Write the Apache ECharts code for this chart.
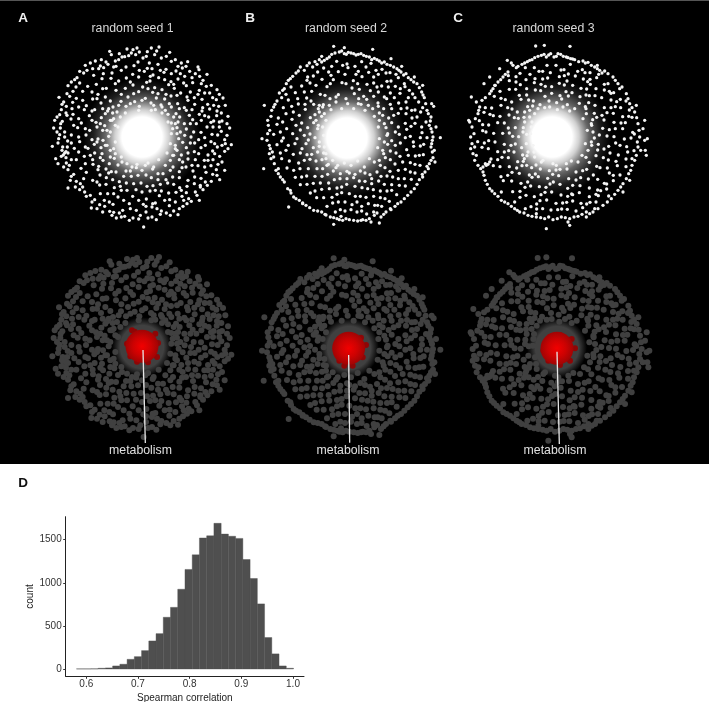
<!DOCTYPE html>
<html><head><meta charset="utf-8">
<style>html,body{margin:0;padding:0;background:#fff}#c{width:709px;height:702px}</style>
<script src="https://cdn.jsdelivr.net/npm/echarts@6/dist/echarts.min.js"></script>
</head><body><div id="c"></div>
<script>
// Embedding points (arbitrary embedding units, y up)
const seed1 = [[-97,257],[-92,247],[-45,264],[-27,262],[-15,267],[-32,252],[-19,247],[13,242],[28,267],[51,270],[83,254],[73,242],[58,237],[88,227],[38,247],[3,237],[-60,240],[-70,232],[-80,228],[-52,241],[-40,244],[-108,225],[-125,213],[-140,228],[-155,222],[-130,205],[-115,208],[-148,205],[-165,200],[-187,197],[-222,154],[-202,172],[-187,162],[-207,137],[-217,122],[-249,119],[-227,92],[-242,82],[-247,67],[-262,50],[-239,47],[-245,27],[-265,27],[-247,7],[-269,-28],[-252,-18],[-232,-48],[-236,-54],[-228,-44],[-259,-65],[-242,-58],[-227,-78],[-222,-98],[-212,-118],[-197,-133],[-222,-153],[-187,-158],[-167,-178],[-142,-188],[-152,-213],[-127,-203],[-97,-223],[-77,-243],[-52,-238],[-27,-243],[18,-243],[5,-270],[43,-248],[73,-228],[108,-233],[123,-208],[148,-193],[183,-158],[208,-133],[233,-128],[223,-98],[233,-58],[248,-43],[268,-23],[248,-8],[263,27],[238,17],[258,62],[238,72],[243,117],[223,112],[203,132],[193,152],[171,202],[173,182],[143,197],[118,222],[121,207],[160,190],[132,212],[183,170],[212,118],[230,92],[240,48],[250,-20],[240,-75],[225,-115],[196,-145],[165,-175],[135,-200],[95,-222],[30,-240],[-10,-246],[-62,-240],[-85,-226],[-112,-208],[-155,-175],[-178,-150],[-205,-112],[-218,-85],[-238,-30],[-250,-5],[-244,40],[-235,105],[-225,130],[-195,178],[-175,192],[-102,218],[-12,225],[22,222],
[-78,212],[-24,214],[16,206],[48,218],[72,203],[-116,190],[-62,200],[-28,188],[7,197],[33,186],[66,194],[102,198],[-93,176],[-47,177],[-10,180],[24,168],[50,178],[87,166],[128,182],[-137,158],[-70,168],[-27,156],[14,164],[38,148],[80,157],[108,174],[152,163],[-163,152],[-107,146],[-50,146],[-10,136],[32,134],[60,142],[97,146],[133,154],[172,140],[-178,137],[-132,128],[-78,140],[-42,120],[10,116],[43,117],[87,123],[116,132],[157,118],[-197,116],[-148,114],[-110,120],[-63,107],[-22,106],[27,102],[68,114],[107,100],[138,110],[180,113],[-208,104],[-167,94],[-123,102],[-87,90],[57,96],[88,90],[127,88],[158,98],[197,98],[-173,82],[-142,82],[-103,78],[102,70],[133,80],[172,68],[203,84],[-207,68],[-158,64],[-122,58],[113,60],[152,52],[188,64],[224,64],[-213,54],[-182,42],[-138,44],[-112,34],[127,40],[163,40],[207,44],[-193,28],[-157,20],[-118,20],[133,24],[177,14],[213,30],[-212,6],[-168,6],[-132,-6],[147,0],[188,-2],[227,6],[-223,-12],[-187,-14],[-143,-22],[-117,-10],[122,-16],[158,-18],[207,-14],[-203,-34],[-162,-34],[-123,-32],[133,-32],[177,-32],[226,-30],[-222,-48],[-173,-58],[-142,-48],[118,-54],[157,-44],[198,-54],[-197,-68],[-148,-68],[-117,-70],[-83,-64],[112,-68],[138,-66],[187,-70],[213,-68],[-183,-94],[-147,-82],[-108,-96],[-72,-84],[93,-90],[132,-90],[168,-86],[207,-86],[-167,-106],[-126,-114],[-92,-104],[-48,-102],[-17,-92],[32,-96],[63,-110],[112,-104],[153,-102],[192,-106],[-148,-130],[-107,-122],[-68,-134],[-32,-118],[12,-114],[48,-128],[92,-120],[138,-130],[177,-124],[-127,-144],[-83,-152],[-47,-138],[-3,-138],[33,-146],[77,-138],[113,-152],[157,-140],[-103,-170],[-62,-160],[-18,-158],[24,-162],[58,-162],[102,-166],[133,-167],[-113,-190],[-72,-180],[-28,-178],[13,-186],[52,-176],[83,-188],[120,-178],[-87,-202],[-38,-200],[4,-202],[40,-198],[82,-206],[-58,-220],[-17,-220],[30,-210],[58,-222],
[-110,70],[-125,40],[-105,20],[-110,-25],[-120,-50],[-95,-60],[-100,85],[-70,95],[-35,100],[0,110],[35,95],[70,80],[95,60],[100,40],[115,15],[110,-5],[100,-35],[95,-55],[70,-85],[35,-90],[0,-100],[-30,-90],[-60,-75],[-90,50],[-85,-35],[-75,75],[60,90],[85,-70],[-95,15],[92,25]];
const seed1More = [[-68,250],[-8,255],[16,256],[44,258],[100,232],[108,212],[137,226],[150,178],[168,210],[195,188],[178,160],[208,155],[225,142],[232,128],[250,95],[225,78],[255,40],[232,30],[255,5],[240,-25],[258,-35],[218,-50],[228,-82],[248,-100],[212,-112],[190,-135],[175,-150],[160,-165],[172,-190],[140,-185],[125,-190],[112,-215],[85,-235],[55,-232],[12,-225],[-5,-235],[-38,-250],[-68,-228],[-90,-235],[-118,-225],[-135,-215],[-150,-195],[-172,-165],[-185,-140],[-200,-150],[-215,-130],[-235,-90],[-252,-80],[-228,-62],[-240,-40],[-224,-30],[-255,15],[-232,15],[-255,60],[-225,65],[-240,98],[-210,85],[-198,150],[-212,165],[-170,215],[-145,185],[-122,232],[-85,210],
[-90,192],[-48,210],[-8,200],[30,205],[55,200],[88,190],[115,190],[-120,175],[-80,160],[-35,165],[2,150],[25,182],[68,172],[95,158],[125,162],[145,135],[-150,135],[-118,145],[-62,128],[-25,130],[18,145],[48,130],[72,128],[105,125],[135,120],[168,128],[188,132],[-178,110],[-135,115],[-95,108],[-48,92],[-8,92],[40,82],[82,100],[112,85],[150,82],[182,88],[215,95],[-190,90],[-150,78],[-118,85],[-88,72],[78,68],[108,45],[142,65],[180,78],[200,60],[-228,72],[-190,55],[-150,50],[-95,50],[-80,35],[88,42],[145,40],[178,50],[215,48],[-205,35],[-170,25],[-135,30],[-100,2],[105,28],[155,15],[195,30],[232,45],[-232,0],[-190,0],[-150,-8],[-105,-25],[105,10],[128,5],[170,-8],[210,8],[-212,-18],[-170,-30],[-135,-15],[-95,-40],[100,-25],[145,-18],[190,-25],[218,-20],[-190,-45],[-155,-55],[-125,-62],[-98,-80],[105,-40],[138,-48],[170,-50],[212,-42],[-212,-68],[-170,-80],[-130,-88],[-100,-108],[92,-55],[122,-75],[160,-68],[198,-70],[-175,-125],[-132,-98],[-78,-105],[-35,-102],[10,-85],[48,-110],[85,-100],[120,-92],[150,-85],[188,-90],[-135,-135],[-88,-128],[-55,-118],[-12,-115],[28,-122],[72,-128],[112,-122],[158,-120],[-108,-142],[-65,-148],[-25,-140],[15,-148],[55,-142],[95,-142],[135,-148],[175,-145],[-125,-170],[-85,-170],[-45,-160],[0,-165],[40,-160],[80,-168],[118,-160],[-98,-195],[-55,-190],[-10,-190],[32,-200],[68,-190],[100,-195],[-35,-215],[12,-208],[45,-215],
[-85,55],[-72,30],[-80,-15],[-80,-50],[-62,-60],[-45,-80],[-15,-82],[18,-78],[50,-68],[75,-48],[85,-20],[88,10],[78,45],[60,72],[28,80],[-10,80],[-50,72],[-65,60]];
const seed2 = [[-52,272],[65,263],[-260,95],[268,-2],[-267,-5],[-262,-95],[-187,-210],[248,92],[-152,210],[-140,200],[-125,222],[-115,210],[-102,218],[-88,225],[-72,235],[-58,248],[-48,252],[-35,255],[-20,250],[-8,254],[8,250],[22,248],[38,245],[55,240],[70,236],[85,228],[100,225],[118,215],[138,205],[150,195],[165,190],[180,172],[198,160],[212,135],[220,118],[228,80],[240,60],[235,35],[243,15],[244,-10],[240,-30],[246,-62],[235,-80],[222,-105],[205,-128],[190,-155],[170,-175],[150,-195],[132,-208],[105,-225],[90,-240],[70,-235],[45,-250],[20,-252],[-5,-248],[-25,-250],[-42,-245],[-62,-240],[-88,-225],[-112,-220],[-135,-205],[-155,-190],[-172,-180],[-190,-155],[-200,-135],[-212,-120],[-225,-100],[-240,-65],[-236,-45],[-245,-25],[-250,10],[-248,35],[-240,62],[-238,80],[-222,108],[-215,132],[-200,145],[-188,170],[-175,182],[-165,192],[-180,150],[-195,128],[-230,-80],[-232,-60],[-218,-95],[-180,-168],[-145,-198],[-78,-232],[-52,-262],[-30,-238],[35,-248],[60,-255],[85,-258],[120,-218],[215,-120],[232,-95],[252,-75],[250,-40],[255,30],[242,100],[215,155],[190,180],[152,212],[120,235],[-88,242],[-20,268],[-130,180],
[-82,207],[-43,227],[-12,219],[32,226],[60,221],[93,203],[117,193],[-113,183],[-67,195],[-38,196],[-9,208],[22,197],[53,194],[82,188],[108,167],[142,178],[-123,162],[-87,173],[-53,172],[-27,163],[7,169],[33,181],[68,162],[92,153],[133,152],[162,151],[-148,153],[-118,137],[-72,151],[-38,127],[3,147],[25,143],[58,139],[82,135],[118,132],[147,131],[185,129],[-167,133],[-133,117],[-92,128],[-63,115],[-15,115],[23,115],[47,113],[81,102],[107,115],[143,102],[172,118],[203,105],[-188,111],[-158,99],[-112,98],[-83,97],[98,85],[122,85],[168,87],[192,81],[-203,88],[-173,75],[-137,83],[-108,67],[113,57],[142,71],[183,57],[209,75],[-218,57],[-177,53],[-148,42],[-112,43],[122,43],[163,41],[192,41],[225,45],[-222,38],[-193,25],[-152,21],[-123,9],[133,15],[167,23],[213,13],[-232,8],[-203,-3],[-162,-5],[-128,-9],[122,-11],[163,-2],[187,-15],[228,-2],[-222,-23],[-188,-25],[-147,-35],[-113,-32],[133,-25],[167,-38],[208,-27],[-212,-48],[-173,-52],[-132,-53],[118,-42],[147,-58],[193,-57],[217,-53],[-208,-65],[-157,-78],[-123,-67],[-87,-68],[103,-62],[132,-81],[178,-77],[207,-85],[-192,-93],[-153,-95],[-102,-95],[-68,-82],[88,-85],[117,-103],[163,-97],[192,-108],[-167,-121],[-133,-117],[-87,-118],[-53,-102],[-12,-103],[28,-102],[57,-113],[108,-117],[142,-125],[181,-127],[-152,-143],[-113,-139],[-67,-138],[-33,-125],[8,-122],[42,-133],[83,-132],[122,-143],[163,-147],[-122,-168],[-88,-157],[-42,-153],[-13,-142],[33,-152],[67,-158],[108,-162],[137,-173],[-103,-182],[-57,-181],[-28,-167],[13,-178],[45,-181],[88,-182],[115,-193],[-72,-208],[-38,-195],[3,-203],[32,-208],[71,-205],[92,-208],[-47,-225],[-18,-222],[18,-225],[47,-231],
[-95,75],[-105,50],[-100,25],[-95,-15],[-100,-45],[-75,-65],[-85,90],[-45,105],[-10,100],[30,98],[65,85],[95,65],[100,40],[110,10],[100,-15],[95,-40],[70,-75],[40,-90],[0,-85],[-40,-85],[-95,95],[-75,50],[-80,-30],[85,50]];
const seed2More = [[-158,198],[-132,214],[-108,226],[-95,232],[-80,230],[-65,240],[-28,258],[-14,248],[0,252],[15,246],[30,250],[46,242],[62,232],[78,232],[92,222],[108,218],[128,210],[144,200],[158,186],[172,178],[188,165],[205,148],[216,126],[224,100],[232,70],[238,48],[240,25],[246,0],[242,-20],[244,-45],[240,-70],[228,-88],[214,-112],[198,-142],[180,-165],[160,-185],[140,-200],[118,-215],[98,-232],[78,-228],[55,-245],[30,-250],[8,-250],[-15,-245],[-35,-248],[-52,-242],[-75,-234],[-100,-222],[-124,-212],[-145,-200],[-165,-185],[-182,-160],[-205,-128],[-218,-110],[-245,-50],[-242,-35],[-252,-10],[-244,20],[-250,50],[-232,90],[-228,98],[-208,118],[-205,140],[-194,160],[-182,175],
[-100,195],[-58,212],[-25,215],[12,212],[45,210],[75,200],[105,192],[135,188],[-132,170],[-60,185],[-18,188],[15,188],[68,180],[120,168],[160,160],[-140,135],[-105,155],[-62,160],[-15,160],[20,160],[48,158],[78,150],[112,150],[148,145],[175,140],[-160,115],[-120,108],[-78,125],[-45,120],[10,130],[38,122],[68,122],[100,120],[130,118],[165,105],[192,118],[-178,92],[-138,98],[-98,85],[-65,95],[22,100],[52,95],[82,92],[118,98],[150,85],[182,80],[215,88],[-195,70],[-155,65],[-122,58],[-88,62],[85,72],[128,65],[165,70],[198,60],[-205,45],[-165,35],[-130,28],[-98,35],[105,28],[142,30],[180,32],[212,30],[-212,15],[-175,10],[-140,5],[-108,-2],[108,5],[145,8],[178,2],[208,-2],[-208,-12],[-168,-20],[-135,-20],[-95,-28],[110,-22],[148,-18],[188,-28],[218,-22],[-195,-40],[-152,-48],[-118,-52],[-82,-48],[98,-50],[135,-48],[172,-55],[205,-55],[-185,-72],[-140,-70],[-105,-72],[-72,-85],[85,-70],[118,-68],[155,-75],[192,-82],[-172,-100],[-128,-95],[-85,-95],[-45,-92],[-5,-108],[42,-108],[78,-105],[102,-92],[142,-100],[178,-105],[-148,-120],[-108,-118],[-70,-112],[-32,-110],[12,-112],[62,-125],[90,-118],[125,-120],[160,-125],[-132,-142],[-92,-138],[-50,-128],[-12,-125],[25,-132],[62,-140],[100,-142],[145,-145],[-108,-162],[-65,-155],[-28,-150],[12,-148],[50,-155],[88,-162],[122,-160],[-82,-182],[-42,-172],[-5,-170],[28,-178],[68,-178],[102,-185],[-55,-198],[-18,-195],[18,-195],[52,-200],[80,-205],[-32,-218],[0,-218],[32,-222],[68,-225],
[-80,70],[-85,30],[-82,5],[-75,-50],[-55,-70],[-20,-78],[20,-72],[55,-65],[80,-32],[85,-5],[82,30],[70,62],[42,80],[8,85],[-28,85],[-60,82]];
const seed3 = [[-67,273],[-41,275],[36,272],[-152,230],[-135,215],[-120,212],[-100,222],[-85,230],[-70,238],[-50,245],[-35,240],[-22,250],[-5,242],[8,248],[25,240],[38,235],[50,232],[75,228],[90,224],[110,210],[125,200],[140,198],[165,180],[180,160],[205,130],[215,100],[230,75],[240,40],[245,0],[240,-30],[235,-55],[222,-85],[212,-110],[195,-140],[180,-160],[160,-185],[135,-205],[105,-225],[85,-225],[60,-238],[35,-245],[10,-240],[-15,-248],[-40,-245],[-65,-240],[-90,-235],[-115,-225],[-130,-215],[-150,-200],[-170,-190],[-190,-170],[-205,-155],[-218,-130],[-225,-105],[-240,-85],[-245,-55],[-258,-20],[-262,0],[-258,30],[-265,45],[-268,50],[-240,70],[-235,90],[-228,110],[-205,130],[-195,145],[-180,165],[-165,180],[-150,195],[-175,205],[-205,180],[-222,160],[-245,105],[-260,120],[-190,155],[-215,-85],[-218,-80],[-210,-82],[-255,-50],[-262,-35],[195,-165],[215,-130],[265,-55],[262,-40],[260,-10],[255,25],[268,-5],[260,50],[235,95],[185,145],[150,160],[118,215],[-35,-275],[35,-265],[30,-255],[-65,-230],[85,-240],[110,-215],[-170,-165],[-130,-195],[-98,-215],
[-98,208],[-57,197],[-33,215],[9,201],[37,218],[73,202],[96,193],[-126,181],[-84,188],[-46,174],[-23,193],[19,184],[52,183],[89,166],[116,178],[154,137],[-146,169],[-113,157],[-71,163],[-38,152],[4,161],[27,168],[69,146],[97,158],[139,141],[167,133],[-174,137],[-127,143],[-94,126],[-52,139],[-19,131],[24,136],[42,133],[84,126],[111,124],[159,111],[187,113],[-191,122],[-158,112],[-111,113],[-74,108],[-27,108],[11,114],[64,101],[92,103],[139,88],[172,91],[214,81],[-218,88],[-171,95],[-138,84],[-91,91],[109,71],[147,73],[194,61],[222,59],[-222,74],[-194,64],[-147,66],[-119,56],[116,59],[168,44],[202,43],[-236,49],[-208,36],[-161,42],[-128,28],[134,26],[172,25],[224,14],[-226,19],[-193,11],[-146,12],[-118,1],[124,6],[147,3],[199,-6],[229,9],[-241,-14],[-208,-11],[-161,-22],[-128,-21],[121,-22],[173,-18],[206,-29],[-228,-31],[-181,-44],[-148,-41],[-106,-54],[138,-36],[181,-54],[228,-41],[-201,-66],[-168,-61],[-121,-74],[-93,-56],[114,-56],[151,-69],[204,-66],[-194,-86],[-146,-89],[-108,-86],[-66,-84],[94,-76],[126,-92],[178,-86],[-171,-119],[-138,-106],[-86,-114],[-53,-96],[-6,-99],[27,-96],[74,-101],[106,-114],[154,-108],[186,-114],[-164,-131],[-111,-139],[-78,-121],[-31,-124],[2,-116],[54,-129],[91,-126],[139,-139],[166,-131],[-136,-164],[-99,-151],[-56,-149],[-24,-141],[29,-154],[66,-146],[119,-159],[146,-156],[-114,-181],[-71,-179],[-39,-166],[9,-174],[41,-171],[94,-179],[121,-176],[-81,-209],[-54,-191],[-6,-199],[26,-196],[69,-199],[96,-196],[-64,-216],[-21,-219],[11,-216],[54,-222],
[-100,75],[-100,45],[-105,15],[-95,-20],[-90,-45],[-70,-60],[-60,85],[-25,90],[15,90],[50,85],[85,70],[100,40],[105,15],[100,-15],[90,-40],[60,-75],[25,-80],[-15,-80],[-45,-70],[-85,60],[-80,30]];
const seed3More = [[-140,222],[-125,208],[-108,218],[-92,226],[-78,232],[-60,242],[-42,248],[-28,246],[-12,240],[0,250],[16,242],[30,238],[44,234],[62,226],[82,222],[100,215],[118,205],[132,192],[150,190],[172,170],[192,150],[210,115],[222,88],[236,58],[243,20],[238,-15],[248,-40],[230,-70],[218,-100],[205,-125],[188,-150],[170,-172],[148,-195],[120,-215],[95,-230],[72,-232],[48,-240],[22,-242],[-2,-245],[-28,-240],[-52,-242],[-78,-238],[-102,-228],[-122,-220],[-140,-208],[-160,-195],[-180,-178],[-198,-162],[-212,-142],[-232,-95],[-250,-70],[-250,-30],[-252,10],[-248,55],[-238,80],[-218,118],[-200,138],[-188,155],[-172,172],[-158,188],[-222,-115],[-205,-75],[-225,-90],
[-114,191],[-71,208],[-46,197],[-6,215],[18,202],[59,197],[81,193],[122,188],[-149,184],[-96,172],[-69,175],[-31,177],[4,181],[31,189],[76,174],[96,173],[139,158],[-126,165],[-94,145],[-51,158],[-19,151],[19,156],[44,155],[86,144],[114,145],[159,131],[-146,143],[-116,125],[-68,141],[-39,122],[6,124],[31,123],[66,121],[94,124],[131,118],[176,106],[204,108],[-171,116],[-139,105],[-88,111],[-54,97],[-4,103],[28,97],[82,91],[111,95],[159,88],[188,88],[-199,87],[-151,88],[-122,75],[-76,93],[84,85],[132,65],[166,71],[212,62],[-204,68],[-174,62],[-131,58],[-102,59],[104,52],[138,51],[189,42],[-226,37],[-181,43],[-149,27],[-104,28],[101,35],[154,22],[194,25],[-216,15],[-166,11],[-136,2],[-94,8],[109,-3],[168,1],[219,-3],[-221,-18],[-189,-15],[-141,-25],[-109,-32],[101,-25],[152,-28],[186,-25],[-209,-35],[-161,-45],[-132,-45],[-101,-65],[119,-39],[156,-48],[209,-45],[-181,-68],[-149,-62],[-104,-73],[-79,-92],[84,-61],[136,-62],[174,-73],[222,-65],[-174,-89],[-124,-93],[-94,-85],[-26,-101],[6,-97],[54,-105],[86,-97],[116,-88],[148,-93],[204,-89],[-151,-115],[-116,-109],[-68,-111],[-16,-112],[32,-125],[68,-122],[119,-127],[166,-115],[-139,-132],[-91,-135],[-59,-119],[-14,-135],[44,-145],[94,-153],[146,-141],[-114,-163],[-82,-147],[-36,-151],[6,-142],[44,-173],[114,-172],[128,-161],[-96,-175],[-51,-173],[-19,-165],[29,-178],[64,-167],[152,-177],[-64,-201],[-34,-189],[14,-198],[44,-192],[86,-201],[114,-195],[-46,-215],[-1,-218],[28,-217],[74,-212],
[-85,80],[-78,45],[-82,10],[-75,-25],[-72,-45],[-50,-75],[-5,-85],[40,-72],[72,-55],[82,-20],[88,20],[75,55],[35,78],[-2,82],[-40,88],[-70,70]];
// Hub positions and highlighted cluster, same units
const whiteHub = [[[0,0]],[[-12,-3]],[[-18,0]]];
const greyHub = [[[0,0]],[[-6,3]],[[-9,3]]];
const redHub = [[[0,2]],[[-7,2]],[[-9,2]]];
const redEdge = [
 [[-30,50],[-22,46],[40,40],[48,12],[45,-30],[-35,-28],[-45,10],[-15,-44],[18,-46]],
 [[-35,30],[-25,36],[30,34],[45,12],[35,-25],[-35,-35],[-20,-50],[5,-50],[-45,-5]],
 [[-30,35],[0,42],[35,30],[45,2],[30,-35],[-35,-35],[-50,-5],[0,-48],[-45,15]]];
const lineSeeds = [[[3,-9],[10,-288]],[[-7,-18],[-4,-281]],[[-9,-8],[-2,-285]]];
const panelCentres = [[142,137],[351,137],[558,137]];
const lowerCentres = [[142,347],[351,349],[560,349]];
const seeds = [seed1.concat(seed1More),seed2.concat(seed2More),seed3.concat(seed3More)];
const panelLetters = ['A','B','C'];
const panelTitles = ['random seed 1','random seed 2','random seed 3'];
const labelText = 'metabolism';
// Histogram D
const binCentres = [0.588,0.602,0.616,0.630,0.644,0.658,0.672,0.686,0.700,0.714,0.728,0.742,0.756,0.770,0.784,0.798,0.812,0.826,0.840,0.854,0.868,0.882,0.896,0.910,0.924,0.938,0.952,0.966,0.980,0.994];
const binCounts = [1,1,2,8,12,35,55,112,143,213,325,410,600,715,925,1155,1325,1520,1545,1690,1565,1540,1515,1270,1050,755,365,175,35,8];
const binWidth = 0.014;
const xTicks = [0.6,0.7,0.8,0.9,1.0];
const yTicks = [0,500,1000,1500];

const FONT = '"Liberation Sans", Arial, sans-serif';
const grids=[],xAxes=[],yAxes=[],series=[],graphics=[];
function panel(cx,cy){
  const i=grids.length;
  grids.push({left:cx-100,top:cy-100,width:200,height:200,outerBoundsMode:'none'});
  xAxes.push({type:'value',gridIndex:i,min:-300,max:300,show:false});
  yAxes.push({type:'value',gridIndex:i,min:-300,max:300,show:false});
  return i;
}
function pts(i,data,size,color,z,extra){
  series.push(Object.assign({type:'scatter',xAxisIndex:i,yAxisIndex:i,data,symbolSize:size,z,silent:true,animation:false,clip:false,large:false,
    itemStyle:{color,opacity:1}},extra||{}));
}
function radial(stops){return {type:'radial',x:.5,y:.5,r:.5,colorStops:stops.map(s=>({offset:s[0],color:s[1]}))};}
seeds.forEach((pnts,k)=>{
  const a=panel(...panelCentres[k]);
  pts(a,whiteHub[k],118,radial([[0,'#fff'],[.34,'#fff'],[.46,'rgba(255,255,255,.82)'],[.62,'rgba(255,255,255,.4)'],[.82,'rgba(255,255,255,.12)'],[1,'rgba(255,255,255,0)']]),2);
  pts(a,pnts,3.3,'#f4f4f4',3);
  const b=panel(...lowerCentres[k]);
  pts(b,pnts,6,'#404040',2);
  pts(b,greyHub[k],60,radial([[0,'#404040'],[.72,'#404040'],[1,'rgba(64,64,64,0)']]),3);
  pts(b,redEdge[k],6,'#8e0606',4);
  pts(b,redHub[k],33,radial([[0,'#f20000'],[.55,'#cc0202'],[1,'#a00404']]),5);
  series.push({type:'line',xAxisIndex:b,yAxisIndex:b,data:lineSeeds[k],symbol:'none',silent:true,animation:false,clip:false,z:6,lineStyle:{color:'#e6e6e6',width:1.3}});
  graphics.push({type:'text',x:[132.5,346,553.5][k],y:29,z:20,style:{text:panelTitles[k],fill:'#d8d8d8',font:'12.3px '+FONT,textAlign:'center',textVerticalAlign:'middle'}});
  graphics.push({type:'text',x:[140.5,348,555][k],y:451,z:20,style:{text:labelText,fill:'#e0e0e0',font:'12.3px '+FONT,textAlign:'center',textVerticalAlign:'middle'}});
  graphics.push({type:'text',x:[23,250,458][k],y:18,z:20,style:{text:panelLetters[k],fill:'#f0f0f0',font:'bold 13.5px '+FONT,textAlign:'center',textVerticalAlign:'middle'}});
});
graphics.unshift({type:'rect',shape:{x:0,y:0,width:709,height:464},z:-10,style:{fill:'#000'}});
graphics.unshift({type:'rect',shape:{x:0,y:0,width:709,height:1},z:-9,style:{fill:'#555'}});
graphics.push({type:'text',x:23,y:483,z:20,style:{text:'D',fill:'#111',font:'bold 13.5px '+FONT,textAlign:'center',textVerticalAlign:'middle'}});

const h=grids.length;
grids.push({left:65.7,top:516.7,width:238.3,height:159.6,outerBoundsMode:'none'});
xAxes.push({type:'value',gridIndex:h,min:0.5602,max:1.0213,name:'Spearman correlation',nameLocation:'middle',nameGap:17,
  nameTextStyle:{fontFamily:FONT,fontSize:10,color:'#222'},splitLine:{show:false},
  axisLine:{show:true,onZero:false,lineStyle:{color:'#222',width:1}},
  axisTick:{show:true,length:2.5,lineStyle:{color:'#333'},customValues:xTicks},
  axisLabel:{fontFamily:FONT,fontSize:10,color:'#333',margin:3,customValues:xTicks,formatter:v=>v.toFixed(1)}});
yAxes.push({type:'value',gridIndex:h,min:-85,max:1767,name:'count',nameLocation:'middle',nameGap:26,
  nameTextStyle:{fontFamily:FONT,fontSize:10,color:'#222'},splitLine:{show:false},
  axisLine:{show:true,onZero:false,lineStyle:{color:'#222',width:1}},
  axisTick:{show:true,length:2.5,lineStyle:{color:'#333'},customValues:yTicks},
  axisLabel:{fontFamily:FONT,fontSize:10,color:'#333',margin:4,customValues:yTicks,formatter:v=>String(v)}});
series.push({type:'custom',xAxisIndex:h,yAxisIndex:h,silent:true,animation:false,
  data:binCentres.map((c,i)=>[c,binCounts[i]]),
  renderItem(p,api){
    const c=api.value(0),n=api.value(1);
    const a=api.coord([c-binWidth/2,n]),b=api.coord([c+binWidth/2,0]);
    return {type:'rect',shape:{x:a[0],y:a[1],width:b[0]-a[0],height:b[1]-a[1]},style:{fill:'#4f4f4f',stroke:'#4f4f4f',lineWidth:.4}};
  }});

const chart=echarts.init(document.getElementById('c'),null,{renderer:'canvas'});
chart.setOption({backgroundColor:'#fff',animation:false,grid:grids,xAxis:xAxes,yAxis:yAxes,series,graphic:{elements:graphics}});
</script></body></html>
